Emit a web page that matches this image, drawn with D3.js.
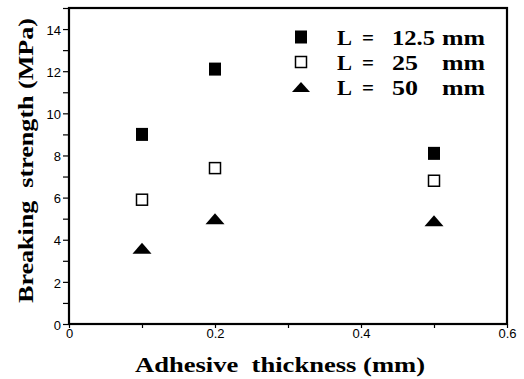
<!DOCTYPE html>
<html>
<head>
<meta charset="utf-8">
<script src="https://cdn.jsdelivr.net/npm/d3@7"></script>
<style>
  body { margin: 0; background: #fff; }
  svg { display: block; }
</style>
</head>
<body>
<div id="main"></div>
<script>
var width = 524, height = 379;

// data
var thickness = [0.1, 0.2, 0.5];
var strength125 = [9.0, 12.1, 8.1];
var strength25 = [5.9, 7.4, 6.8];
var strength50 = [3.6, 5.0, 4.9];
var legendValues = ["12.5", "25", "50"];
var xTicks = [0, 0.1, 0.2, 0.3, 0.4, 0.5, 0.6];
var xLabels = [0, 0.2, 0.4, 0.6];
var yTicks = d3.range(0, 16, 1);
var yLabels = [0, 2, 4, 6, 8, 10, 12, 14];

var svg = d3.select("#main").append("svg")
  .attr("width", width).attr("height", height);

var x = d3.scaleLinear().domain([0, 0.6]).range([69, 507]);
var y = d3.scaleLinear().domain([0, 15]).range([324, 8]);

var serif = "'Liberation Serif', 'Times New Roman', serif";
var sans = "'Liberation Sans', Arial, sans-serif";

// x axis: short outward ticks, labels only on the even ones
var xAxis = svg.append("g")
  .attr("transform", "translate(0," + y(0) + ")")
  .call(d3.axisBottom(x).tickValues(xTicks).tickSize(4).tickSizeOuter(0)
    .tickFormat(function (d) { return xLabels.indexOf(d) >= 0 ? d3.format("")(d) : ""; }));
xAxis.select(".domain").remove();
xAxis.selectAll("line").attr("stroke", "#000").attr("stroke-width", 1.2);
xAxis.selectAll("text").attr("font-family", sans).attr("font-size", 13)
  .attr("fill", "#000").attr("y", 5).attr("dy", "0.71em");

var yAxis = svg.append("g")
  .attr("transform", "translate(" + x(0) + ",0)")
  .call(d3.axisLeft(y).tickValues(yTicks).tickSize(6).tickSizeOuter(0)
    .tickFormat(function (d) { return yLabels.indexOf(d) >= 0 ? d : ""; }));
yAxis.select(".domain").remove();
yAxis.selectAll("line").attr("stroke", "#000").attr("stroke-width", 1.2);
yAxis.selectAll("text").attr("font-family", sans).attr("font-size", 13)
  .attr("fill", "#000").attr("x", -8).attr("dy", "0.4em");

// frame
svg.append("rect")
  .attr("x", x(0)).attr("y", y(15))
  .attr("width", x(0.6) - x(0)).attr("height", y(0) - y(15))
  .attr("fill", "none").attr("stroke", "#000").attr("stroke-width", 2.2);

// markers
function triangle(cx, cy, w, h) {
  return "M" + (cx - w / 2) + "," + (cy + h / 2) + "L" + cx + "," + (cy - h / 2) +
    "L" + (cx + w / 2) + "," + (cy + h / 2) + "Z";
}

var pts = svg.append("g");
pts.selectAll(".filled").data(thickness).enter().append("rect")
  .attr("x", function (d) { return x(d) - 6; })
  .attr("y", function (d, i) { return y(strength125[i]) - 6.5; })
  .attr("width", 12).attr("height", 13).attr("fill", "#000");

pts.selectAll(".open").data(thickness).enter().append("rect")
  .attr("x", function (d) { return x(d) - 5.5; })
  .attr("y", function (d, i) { return y(strength25[i]) - 5.5; })
  .attr("width", 11).attr("height", 11)
  .attr("fill", "#fff").attr("stroke", "#000").attr("stroke-width", 1.5);

pts.selectAll(".tri").data(thickness).enter().append("path")
  .attr("d", function (d, i) { return triangle(x(d), y(strength50[i]), 19, 11); })
  .attr("fill", "#000");

// legend
var legendY = [37, 62, 87];
var leg = svg.append("g");
leg.append("rect").attr("x", 295).attr("y", legendY[0] - 6.5).attr("width", 12).attr("height", 13).attr("fill", "#000");
leg.append("rect").attr("x", 295.5).attr("y", legendY[1] - 5.5).attr("width", 11).attr("height", 11)
  .attr("fill", "#fff").attr("stroke", "#000").attr("stroke-width", 1.5);
leg.append("path").attr("d", triangle(301, legendY[2], 18, 10)).attr("fill", "#000");

legendValues.forEach(function (v, i) {
  var base = legendY[i] + 8;
  var row = leg.append("g").attr("font-family", serif).attr("font-weight", "bold")
    .attr("font-size", 22).attr("fill", "#000");
  row.append("text").attr("x", 337).attr("y", base).text("L")
    .attr("textLength", 15).attr("lengthAdjust", "spacingAndGlyphs");
  row.append("text").attr("x", 362).attr("y", base).text("=")
    .attr("textLength", 12).attr("lengthAdjust", "spacingAndGlyphs");
  row.append("text").attr("x", 392).attr("y", base).text(v)
    .attr("textLength", v.length === 4 ? 43 : 26).attr("lengthAdjust", "spacingAndGlyphs");
  row.append("text").attr("x", 442).attr("y", base).text("mm")
    .attr("textLength", 43).attr("lengthAdjust", "spacingAndGlyphs");
});

// axis titles, stretched to the wide serif face of the original
svg.append("text")
  .attr("x", 135).attr("y", 372)
  .attr("font-family", serif).attr("font-weight", "bold").attr("font-size", 21)
  .attr("fill", "#000")
  .attr("textLength", 290).attr("lengthAdjust", "spacingAndGlyphs")
  .style("white-space", "pre")
  .text("Adhesive  thickness (mm)");

svg.append("text")
  .attr("transform", "translate(33,303) rotate(-90)")
  .attr("font-family", serif).attr("font-weight", "bold").attr("font-size", 21)
  .attr("fill", "#000")
  .attr("textLength", 285).attr("lengthAdjust", "spacingAndGlyphs")
  .style("white-space", "pre")
  .text("Breaking  strength (MPa)");
</script>
</body>
</html>
